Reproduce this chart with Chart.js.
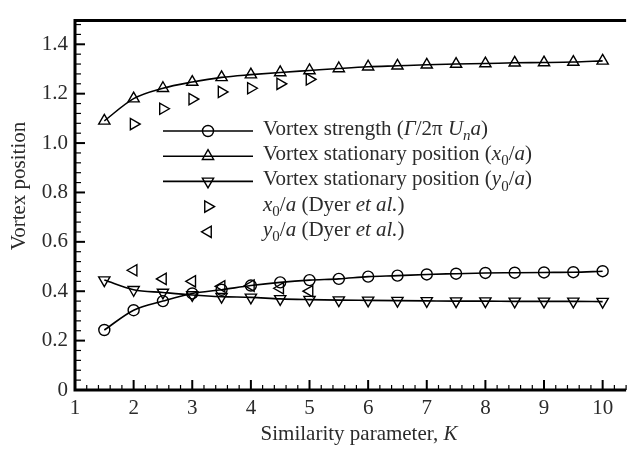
<!DOCTYPE html>
<html>
<head>
<meta charset="utf-8">
<script src="https://cdn.jsdelivr.net/npm/chart.js@4.4.1/dist/chart.umd.min.js"></script>
<style>
  html, body { margin: 0; padding: 0; background: #fff; }
  #wrap { width: 634px; height: 449px; }
</style>
</head>
<body>
<div id="wrap"><canvas id="vortexChart" width="634" height="449"></canvas></div>
<script>
// similarity parameter K for the computed curves
const kValues = [1.5, 2, 2.5, 3, 3.5, 4, 4.5, 5, 5.5, 6, 6.5, 7, 7.5, 8, 8.5, 9, 9.5, 10];
// vortex strength (Gamma / 2 pi U_n a)
const strength = [0.243, 0.323, 0.360, 0.391, 0.406, 0.423, 0.436, 0.445, 0.450, 0.459, 0.463, 0.468, 0.471, 0.474, 0.475, 0.476, 0.477, 0.481];
// stationary position x0/a
const xPosition = [1.090, 1.180, 1.222, 1.247, 1.266, 1.277, 1.286, 1.294, 1.302, 1.309, 1.313, 1.317, 1.320, 1.322, 1.325, 1.326, 1.328, 1.333];
// stationary position y0/a
const yPosition = [0.445, 0.406, 0.395, 0.385, 0.378, 0.375, 0.369, 0.366, 0.364, 0.363, 0.362, 0.361, 0.360, 0.360, 0.359, 0.359, 0.359, 0.358];

// Dyer et al. measurements
const dyerK = [2, 2.5, 3, 3.5, 4, 4.5, 5];
const dyerX = [1.077, 1.139, 1.178, 1.207, 1.222, 1.240, 1.258];
const dyerY = [0.485, 0.450, 0.440, 0.420, 0.423, 0.412, 0.400];

const xTickLabels = [1, 2, 3, 4, 5, 6, 7, 8, 9, 10];
const yTickLabels = [0, 0.2, 0.4, 0.6, 0.8, 1.0, 1.2, 1.4];

const xTitle = [{ t: 'Similarity parameter, ' }, { t: 'K', it: true }];
const yTitle = [{ t: 'Vortex position' }];

const legendItems = [
  { parts: [{ t: 'Vortex strength (' }, { t: 'Γ', it: true }, { t: '/2π ' }, { t: 'U', it: true }, { t: 'n', it: true, sub: true }, { t: 'a', it: true }, { t: ')' }], style: 'circle', rot: 0, line: true },
  { parts: [{ t: 'Vortex stationary position (' }, { t: 'x', it: true }, { t: '0', sub: true }, { t: '/' }, { t: 'a', it: true }, { t: ')' }], style: 'triangle', rot: 0, line: true },
  { parts: [{ t: 'Vortex stationary position (' }, { t: 'y', it: true }, { t: '0', sub: true }, { t: '/' }, { t: 'a', it: true }, { t: ')' }], style: 'triangle', rot: 180, line: true },
  { parts: [{ t: 'x', it: true }, { t: '0', sub: true }, { t: '/' }, { t: 'a', it: true }, { t: ' (Dyer ' }, { t: 'et al.', it: true }, { t: ')' }], style: 'triangle', rot: 90, line: false },
  { parts: [{ t: 'y', it: true }, { t: '0', sub: true }, { t: '/' }, { t: 'a', it: true }, { t: ' (Dyer ' }, { t: 'et al.', it: true }, { t: ')' }], style: 'triangle', rot: -90, line: false }
];

const FONT = '"Liberation Serif", "Times New Roman", serif';
const TEXT_COLOR = '#2b2b2b';
const FONT_SIZE = 21;

function toPoints(xs, ys) {
  return xs.map((x, i) => ({ x: x, y: ys[i] }));
}

function richWidth(ctx, parts, size) {
  let w = 0;
  parts.forEach(p => {
    const s = p.sub ? Math.round(size * 0.7) : size;
    ctx.font = (p.it ? 'italic ' : '') + s + 'px ' + FONT;
    w += ctx.measureText(p.t).width;
  });
  return w;
}

function drawRich(ctx, parts, x, y, size) {
  let cx = x;
  parts.forEach(p => {
    const s = p.sub ? Math.round(size * 0.7) : size;
    ctx.font = (p.it ? 'italic ' : '') + s + 'px ' + FONT;
    ctx.fillText(p.t, cx, y + (p.sub ? size * 0.25 : 0));
    cx += ctx.measureText(p.t).width;
  });
}

const markerOpts = { circle: 5.5, triangle: 6.5 };

// frame, inward ticks, axis titles and the legend box
const framePlugin = {
  id: 'frame',
  afterDraw(chart) {
    const ctx = chart.ctx;
    const { left, right, top, bottom } = chart.chartArea;
    const xs = chart.scales.x, ys = chart.scales.y;
    ctx.save();
    ctx.strokeStyle = '#000';
    ctx.lineCap = 'butt';

    // axis lines
    ctx.lineWidth = 3;
    ctx.beginPath();
    ctx.moveTo(left, top + 1);
    ctx.lineTo(right, top + 1);
    ctx.moveTo(left, top - 0.5);
    ctx.lineTo(left, bottom + 1.5);
    ctx.moveTo(left - 1.5, bottom);
    ctx.lineTo(right, bottom);
    ctx.stroke();

    // x ticks: major every 1, minor every 0.2
    for (let i = 0; i <= 47; i++) {
      const v = 1 + i * 0.2;
      const px = xs.getPixelForValue(v);
      const major = i % 5 === 0;
      ctx.lineWidth = major ? 2 : 1.2;
      ctx.beginPath();
      ctx.moveTo(px, bottom);
      ctx.lineTo(px, bottom - (major ? 10 : 5));
      ctx.stroke();
    }
    // y ticks: major every 0.2, minor every 0.04
    for (let i = 0; i <= 37; i++) {
      const v = i * 0.04;
      const py = ys.getPixelForValue(v);
      const major = i % 5 === 0;
      ctx.lineWidth = major ? 2 : 1.2;
      ctx.beginPath();
      ctx.moveTo(left, py);
      ctx.lineTo(left + (major ? 10 : 6), py);
      ctx.stroke();
    }

    // axis titles
    ctx.fillStyle = TEXT_COLOR;
    ctx.textBaseline = 'alphabetic';
    ctx.textAlign = 'left';
    const xw = richWidth(ctx, xTitle, FONT_SIZE);
    drawRich(ctx, xTitle, 359 - xw / 2, 440, FONT_SIZE);

    ctx.save();
    ctx.translate(25, 186);
    ctx.rotate(-Math.PI / 2);
    const yw = richWidth(ctx, yTitle, FONT_SIZE);
    drawRich(ctx, yTitle, -yw / 2, 0, FONT_SIZE);
    ctx.restore();

    // legend
    const lx0 = 163, lx1 = 253, mx = 208, tx = 263;
    legendItems.forEach((item, i) => {
      const base = 135 + i * 25.2;
      const my = base - 4;
      ctx.strokeStyle = '#000';
      if (item.line) {
        ctx.lineWidth = 1.6;
        ctx.beginPath();
        ctx.moveTo(lx0, my);
        ctx.lineTo(lx1, my);
        ctx.stroke();
      }
      ctx.lineWidth = 1.4;
      ctx.fillStyle = 'rgba(0,0,0,0)';
      Chart.helpers.drawPoint(ctx, {
        pointStyle: item.style,
        radius: markerOpts[item.style],
        rotation: item.rot,
        borderWidth: 1.4
      }, mx, my);
      ctx.fillStyle = TEXT_COLOR;
      drawRich(ctx, item.parts, tx, base, FONT_SIZE);
    });
    ctx.restore();
  }
};

function modelSet(label, ys, style, rot) {
  return {
    label: label,
    data: toPoints(kValues, ys),
    showLine: true,
    borderColor: '#000',
    borderWidth: 1.6,
    cubicInterpolationMode: 'monotone',
    pointStyle: style,
    pointRadius: markerOpts[style],
    pointRotation: rot,
    pointBorderWidth: 1.4,
    pointBorderColor: '#000',
    pointBackgroundColor: 'rgba(0,0,0,0)'
  };
}

function dyerSet(label, ys, rot) {
  return {
    label: label,
    data: toPoints(dyerK, ys),
    showLine: false,
    pointStyle: 'triangle',
    pointRadius: markerOpts.triangle,
    pointRotation: rot,
    pointBorderWidth: 1.4,
    pointBorderColor: '#000',
    pointBackgroundColor: 'rgba(0,0,0,0)'
  };
}

const ctx = document.getElementById('vortexChart').getContext('2d');
new Chart(ctx, {
  type: 'scatter',
  data: {
    datasets: [
      modelSet('Vortex strength', strength, 'circle', 0),
      modelSet('Vortex stationary position (x0/a)', xPosition, 'triangle', 0),
      modelSet('Vortex stationary position (y0/a)', yPosition, 'triangle', 180),
      dyerSet('x0/a (Dyer et al.)', dyerX, 90),
      dyerSet('y0/a (Dyer et al.)', dyerY, -90)
    ]
  },
  options: {
    responsive: false,
    devicePixelRatio: 1,
    animation: false,
    events: [],
    layout: { padding: { top: 4, right: 0, bottom: 0, left: 0 } },
    plugins: {
      legend: { display: false },
      tooltip: { enabled: false }
    },
    scales: {
      x: {
        type: 'linear',
        min: 1,
        max: 10.4,
        grid: { display: false, drawTicks: false, tickLength: 0 },
        border: { display: false },
        afterBuildTicks: scale => { scale.ticks = xTickLabels.map(v => ({ value: v })); },
        afterFit: scale => { scale.height = 59; },
        ticks: {
          padding: 6,
          maxRotation: 0,
          autoSkip: false,
          color: TEXT_COLOR,
          font: { family: FONT, size: FONT_SIZE },
          callback: v => String(v)
        }
      },
      y: {
        type: 'linear',
        min: 0,
        max: 1.5,
        grid: { display: false, drawTicks: false, tickLength: 0 },
        border: { display: false },
        afterBuildTicks: scale => { scale.ticks = yTickLabels.map(v => ({ value: v })); },
        afterFit: scale => { scale.width = 75; },
        ticks: {
          padding: 7,
          autoSkip: false,
          color: TEXT_COLOR,
          font: { family: FONT, size: FONT_SIZE },
          callback: v => (v === 0 ? '0' : v.toFixed(1))
        }
      }
    }
  },
  plugins: [framePlugin]
});
</script>
</body>
</html>
